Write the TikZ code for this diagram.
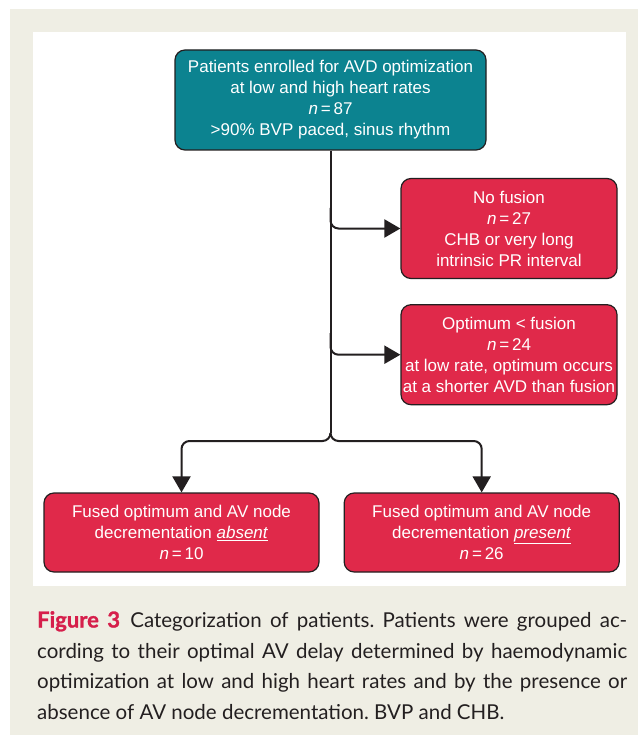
\documentclass[tikz,border=0pt]{standalone}
\usepackage{fontspec}
\setmainfont{Liberation Sans}
\newfontfamily\capfont{Lato}
\newfontfamily\capheavy[FakeBold=1.2]{Lato Bold}
\usetikzlibrary{arrows.meta, positioning}
\definecolor{tealc}{HTML}{0C8390}
\definecolor{redc}{HTML}{E0294A}
\definecolor{paper}{HTML}{EFEEE4}
\definecolor{crim}{HTML}{D61F4B}
\definecolor{ink}{HTML}{231F20}

\begin{document}
\begin{tikzpicture}[x=1pt, y=-1pt, rec/.style={draw=ink, line width=1.2pt, rounded corners=10pt, text=white, align=center, inner sep=0pt, font=\fontsize{17}{21}\selectfont}, trec/.style={rec, fill=tealc, minimum width=311pt, minimum height=100pt}, rrec/.style={rec, fill=redc, minimum width=216pt, minimum height=100pt}, brec/.style={rec, fill=redc, minimum width=275pt, minimum height=79pt}, conn/.style={draw=ink, line width=2pt, rounded corners=8pt, -{Triangle[length=16pt, width=18pt]}}]

          \useasboundingbox (0,0) rectangle (638,735);
          \fill[paper] (10,9) rectangle (638,735);
          \fill[white] (33,32) rectangle (626,586);

          \node[trec] at (330.5,100) (enrol) {Patients enrolled for AVD optimization\\at low and high heart rates\\\textit{n}\,=\,87\\>90\% BVP paced, sinus rhythm};
          \node[rrec] at (509,228.5) (nofus) {No fusion\\\textit{n}\,=\,27\\CHB or very long\\intrinsic PR interval};
          \node[rrec, below=25pt of nofus] (optim) {Optimum < fusion\\\textit{n}\,=\,24\\at low rate, optimum occurs\\at a shorter AVD than fusion};

          \node[brec] at (181.5,532.5) (absent) {Fused optimum and AV node\\decrementation \underline{\textit{absent}}\\\textit{n}\,=\,10};
          \node[brec, right=24pt of absent] (present) {Fused optimum and AV node\\decrementation \underline{\textit{present}}\\\textit{n}\,=\,26};

          \coordinate (tapA) at (330.5,208);
          \coordinate (tapB) at (330.5,333);
          \coordinate (fork) at (330.5,433);
          \coordinate (split) at (330.5,441);
          \draw[conn, -] (enrol) -- (fork);
          \draw[conn] (tapA) |- (nofus);
          \draw[conn] (tapB) |- (optim);
          \draw[conn] (fork) -- (split) -| (absent);
          \draw[conn] (fork) -- (split) -| (present);

          \node[anchor=north west, inner sep=0pt, text width=590pt, align=justify, text=ink, font=\capfont\fontsize{20.5}{30.5}\selectfont\frenchspacing] at (37,611) (capt) {{\capheavy\fontsize{22}{30.5}\selectfont\color{crim}Figure 3}\enspace Categorization of patients. Patients were grouped ac-\linebreak cording to their optimal AV delay determined by haemodynamic\linebreak optimization at low and high heart rates and by the presence or\linebreak absence of AV node decrementation. BVP and CHB.};

      \end{tikzpicture}
\end{document}
